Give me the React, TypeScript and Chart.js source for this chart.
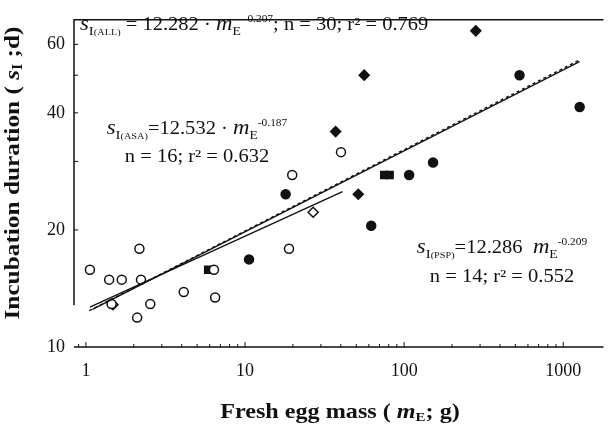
import React, { useEffect, useRef } from "react";
import { Chart, registerables } from "chart.js";
Chart.register(...registerables);

// ---- data ----
const asaCircleMass = [1.06, 1.4, 1.68, 2.22, 2.17, 1.45, 2.1, 2.54, 4.12, 6.38, 6.49, 18.9, 19.8, 40.1];
const asaCircleDays = [15.8, 14.9, 14.9, 14.9, 17.9, 12.9, 11.9, 12.9, 13.85, 15.8, 13.4, 17.9, 27.7, 31.7];
const asaDiamondMass = [1.48, 26.8];
const asaDiamondDays = [12.85, 22.2];
const pspCircleMass = [10.6, 18.0, 62.1, 107.5, 152, 531, 1268];
const pspCircleDays = [16.8, 24.7, 20.5, 27.7, 29.8, 50.0, 41.4];
const pspDiamondMass = [37.1, 51.5, 56.1, 282];
const pspDiamondDays = [35.8, 24.7, 50.0, 65.0];
const pspSquareMass = [5.87, 75, 81];
const pspSquareDays = [15.8, 27.7, 27.7];

const allFitMass = [1.1, 1265];
const allFitDays = [12.5, 54.2];
const pspFitMass = [1.05, 1265];
const pspFitDays = [12.4, 54.7];
const asaFitMass = [1.06, 41];
const asaFitDays = [12.67, 25.1];

const xTickValues = [1, 10, 100, 1000];
const xTickLabels = ["1", "10", "100", "1000"];
const yTickValues = [10, 20, 30, 40, 50, 60];
const yTickLabels = ["10", "20", "", "40", "", "60"];
const ySpineBreakValue = 12.8;

const FONT = '"Liberation Serif", "DejaVu Serif", serif';

type Seg = { t: string; it?: boolean; sz?: number; dy?: number };

function fontFor(s: Seg, base: number, bold: boolean) {
  return `${bold ? "bold " : ""}${s.it ? "italic " : ""}${s.sz ?? base}px ${FONT}`;
}
function measureRich(ctx: CanvasRenderingContext2D, segs: Seg[], base: number, bold = false, sx = 1) {
  let w = 0;
  for (const s of segs) {
    ctx.font = fontFor(s, base, bold);
    w += ctx.measureText(s.t).width;
  }
  return w * sx;
}
function drawRich(
  ctx: CanvasRenderingContext2D,
  segs: Seg[],
  x: number,
  y: number,
  base: number,
  bold = false,
  sx = 1
) {
  ctx.save();
  ctx.translate(x, y);
  ctx.scale(sx, 1);
  let cx = 0;
  for (const s of segs) {
    ctx.font = fontFor(s, base, bold);
    ctx.fillText(s.t, cx, s.dy ?? 0);
    cx += ctx.measureText(s.t).width;
  }
  ctx.restore();
}

const eqAll: Seg[] = [
  { t: "s", it: true, sz: 20 },
  { t: "I", sz: 13, dy: 5 },
  { t: "(ALL)", sz: 9, dy: 5 },
  { t: " = 12.282 · " },
  { t: "m", it: true, sz: 20 },
  { t: "E", sz: 12, dy: 5 },
  { t: " -0.207", sz: 10, dy: -8 },
  { t: "; n = 30; r² = 0.769" },
];
const eqAsa1: Seg[] = [
  { t: "s", it: true, sz: 20 },
  { t: "I", sz: 13, dy: 5 },
  { t: "(ASA)", sz: 9, dy: 5 },
  { t: "=12.532 · " },
  { t: "m", it: true, sz: 20 },
  { t: "E", sz: 12, dy: 5 },
  { t: "-0.187", sz: 10, dy: -8 },
];
const eqAsa2: Seg[] = [{ t: "n = 16; r² = 0.632" }];
const eqPsp1: Seg[] = [
  { t: "s", it: true, sz: 20 },
  { t: "I", sz: 13, dy: 5 },
  { t: "(PSP)", sz: 9, dy: 5 },
  { t: "=12.286  " },
  { t: "m", it: true, sz: 20 },
  { t: "E", sz: 12, dy: 5 },
  { t: "-0.209", sz: 10, dy: -8 },
];
const eqPsp2: Seg[] = [{ t: "n = 14; r² = 0.552" }];
const yTitle: Seg[] = [
  { t: "Incubation duration ( " },
  { t: "s", it: true },
  { t: "I", sz: 14, dy: 5 },
  { t: " ;d)" },
];
const xTitle: Seg[] = [
  { t: "Fresh egg mass ( " },
  { t: "m", it: true },
  { t: "E", sz: 13, dy: 5 },
  { t: "; g)" },
];

const pts = (xs: number[], ys: number[]) => xs.map((x, i) => ({ x, y: ys[i] }));

const decorPlugin = {
  id: "decor",
  beforeDatasetsDraw(chart: any) {
    const { ctx, chartArea: a, scales } = chart;
    const xs = scales.x;
    const ys = scales.y;
    ctx.save();
    ctx.strokeStyle = "#111";
    ctx.lineWidth = 1.5;
    // top + left spine (left spine broken near the bottom, as in the original)
    ctx.beginPath();
    ctx.moveTo(a.right, a.top);
    ctx.lineTo(a.left, a.top);
    ctx.lineTo(a.left, ys.getPixelForValue(ySpineBreakValue));
    ctx.stroke();
    // bottom axis
    ctx.beginPath();
    ctx.moveTo(a.left, a.bottom);
    ctx.lineTo(a.right, a.bottom);
    ctx.stroke();
    ctx.lineWidth = 1;
    for (const d of [0.1, 1, 10, 100, 1000]) {
      for (let k = 1; k <= 9; k++) {
        const v = k * d;
        if (v < xs.min || v > xs.max) continue;
        const px = xs.getPixelForValue(v);
        ctx.beginPath();
        ctx.moveTo(px, a.bottom);
        ctx.lineTo(px, a.bottom - (k === 1 ? 5 : 3));
        ctx.stroke();
      }
    }
    for (const v of yTickValues) {
      if (v <= ySpineBreakValue) continue;
      const py = ys.getPixelForValue(v);
      ctx.beginPath();
      ctx.moveTo(a.left, py);
      ctx.lineTo(a.left + 4, py);
      ctx.stroke();
    }
    ctx.restore();
  },
  afterDraw(chart: any) {
    const { ctx } = chart;
    const SX = 1.14;
    ctx.save();
    ctx.fillStyle = "#111";
    ctx.textBaseline = "alphabetic";
    ctx.textAlign = "left";
    drawRich(ctx, eqAll, 80, 30, 18, false, SX);
    let w = measureRich(ctx, eqAsa1, 18, false, SX);
    drawRich(ctx, eqAsa1, 197 - w / 2, 134, 18, false, SX);
    w = measureRich(ctx, eqAsa2, 18, false, SX);
    drawRich(ctx, eqAsa2, 197 - w / 2, 162, 18, false, SX);
    w = measureRich(ctx, eqPsp1, 18, false, SX);
    drawRich(ctx, eqPsp1, 502 - w / 2, 253, 18, false, SX);
    w = measureRich(ctx, eqPsp2, 18, false, SX);
    drawRich(ctx, eqPsp2, 502 - w / 2, 282, 18, false, SX);

    // axis titles
    ctx.textBaseline = "middle";
    w = measureRich(ctx, xTitle, 21, true, 1.15);
    drawRich(ctx, xTitle, 340 - w / 2, 413, 21, true, 1.15);
    ctx.translate(13, 173);
    ctx.rotate(-Math.PI / 2);
    w = measureRich(ctx, yTitle, 22, true, 1.15);
    drawRich(ctx, yTitle, -w / 2, 0, 22, true, 1.15);
    ctx.restore();
  },
};

export default function App() {
  const ref = useRef<HTMLCanvasElement | null>(null);
  useEffect(() => {
    document.body.style.margin = "0";
    const canvas = ref.current!;
    const line = (xs: number[], ys: number[], dash: number[] = []) => ({
      data: pts(xs, ys),
      showLine: true,
      pointRadius: 0,
      borderColor: "#111",
      borderWidth: 1.4,
      borderDash: dash,
      fill: false,
    });
    const marks = (xs: number[], ys: number[], style: string, filled: boolean, r: number) => ({
      data: pts(xs, ys),
      showLine: false,
      pointStyle: style,
      pointRadius: r,
      pointBackgroundColor: filled ? "#111" : "#fff",
      pointBorderColor: "#111",
      pointBorderWidth: 1.5,
    });
    const chart = new Chart(canvas, {
      type: "scatter",
      data: {
        datasets: [
          line(allFitMass, allFitDays),
          line(pspFitMass, pspFitDays, [3, 3]),
          line(asaFitMass, asaFitDays),
          marks(asaCircleMass, asaCircleDays, "circle", false, 4.5),
          marks(asaDiamondMass, asaDiamondDays, "rectRot", false, 5),
          marks(pspCircleMass, pspCircleDays, "circle", true, 4.5),
          marks(pspDiamondMass, pspDiamondDays, "rectRot", true, 5),
          marks(pspSquareMass, pspSquareDays, "rect", true, 5),
        ] as any,
      },
      options: {
        responsive: false,
        animation: false,
        events: [],
        layout: { padding: { left: 0, top: 8, right: 0, bottom: 0 } },
        plugins: { legend: { display: false }, tooltip: { enabled: false } },
        scales: {
          x: {
            type: "logarithmic",
            min: 0.842,
            max: 1790,
            border: { display: false },
            grid: { display: false, drawTicks: false },
            afterFit: (s: any) => {
              s.height = 82;
            },
            afterBuildTicks: (s: any) => {
              s.ticks = xTickValues.map((v) => ({ value: v }));
            },
            ticks: {
              autoSkip: false,
              maxRotation: 0,
              padding: 13,
              color: "#111",
              font: { family: FONT, size: 18 },
              callback: (v: any) => xTickLabels[xTickValues.indexOf(Number(v))] ?? "",
            },
          },
          y: {
            type: "logarithmic",
            min: 10,
            max: 69.4,
            border: { display: false },
            grid: { display: false, drawTicks: false },
            afterFit: (s: any) => {
              s.width = 74;
            },
            afterBuildTicks: (s: any) => {
              s.ticks = yTickValues.map((v) => ({ value: v }));
            },
            ticks: {
              autoSkip: false,
              padding: 9,
              color: "#111",
              font: { family: FONT, size: 18 },
              callback: (v: any) => yTickLabels[yTickValues.indexOf(Number(v))] ?? "",
            },
          },
        },
      } as any,
      plugins: [decorPlugin],
    });
    return () => chart.destroy();
  }, []);
  return (
    <div style={{ position: "absolute", left: 0, top: 0, width: 610, height: 429, background: "#fff" }}>
      <canvas ref={ref} width={610} height={429} />
    </div>
  );
}
